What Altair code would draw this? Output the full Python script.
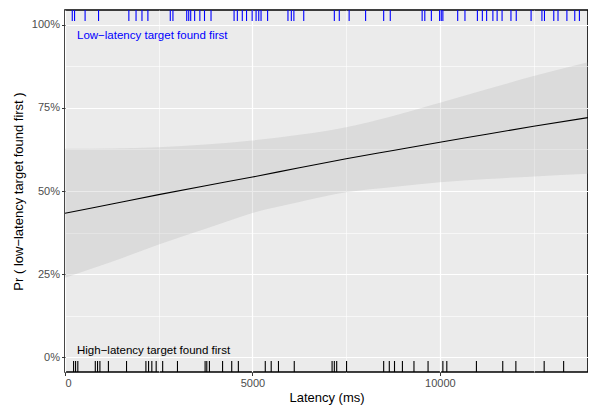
import altair as alt
import pandas as pd

# Fitted curve (logistic smooth) and its confidence band
grid_latency = [0, 1250, 2500, 3750, 5000, 6250, 7500, 8750, 10000, 11250, 12500, 13950]
fit = [0.433, 0.461, 0.489, 0.516, 0.542, 0.570, 0.597, 0.622, 0.647, 0.671, 0.695, 0.721]
lower = [0.239, 0.287, 0.339, 0.386, 0.434, 0.467, 0.496, 0.512, 0.526, 0.536, 0.544, 0.552]
upper = [0.627, 0.628, 0.632, 0.640, 0.652, 0.669, 0.692, 0.726, 0.766, 0.806, 0.846, 0.888]

# Rug: trials where the low-latency target was found first (top, blue)
low_first = [194, 255, 536, 895, 1703, 1895, 2053, 2211, 2808, 2879, 3247, 3300, 3353,
             3458, 3597, 3721, 3895, 4510, 4597, 4729, 4842, 4992, 5097, 5168, 5229,
             5404, 5947, 6037, 6105, 6368, 7184, 7316, 7579, 8018, 8500, 8676, 9526,
             9597, 9772, 9992, 10036, 10079, 10474, 10668, 11000, 11132, 11246, 11413,
             11526, 11658, 11895, 12036, 12432, 12721, 12789, 13037, 13150, 13387,
             13597, 13721]
# Rug: trials where the high-latency target was found first (bottom, black)
high_first = [229, 282, 342, 808, 868, 931, 1158, 1641, 2158, 2229, 2316, 2432, 2605,
              3000, 3737, 3782, 3852, 4203, 4447, 4624, 5342, 5500, 5694, 6115, 7124,
              7184, 7247, 7510, 8500, 8650, 8789, 9000, 9308, 9684, 10079, 10184,
              10974, 11676, 12026, 12781, 13300]

ann_labels = ["Low\u2212latency target found first", "High\u2212latency target found first"]
ann_x = [320, 320]
ann_y = [0.968, 0.018]
ann_colors = ["#0000FF", "#000000"]

x_ticks = [0, 2500, 5000, 7500, 10000, 12500]
y_ticks = [0, 0.125, 0.25, 0.375, 0.5, 0.625, 0.75, 0.875, 1.0]

fit_df = pd.DataFrame({"lat": grid_latency, "fit": fit, "lo": lower, "hi": upper})
low_df = pd.DataFrame({"lat": low_first})
high_df = pd.DataFrame({"lat": high_first})
ann_df = pd.DataFrame({"lat": ann_x, "p": ann_y, "label": ann_labels, "col": ann_colors})

FONT = "Liberation Sans"
W, H = 523, 362

xs = alt.Scale(domain=[0, 13950], nice=False, zero=False)
ys = alt.Scale(domain=[-0.045, 1.045], nice=False, zero=False)

x_axis = alt.Axis(
    title="Latency (ms)", values=x_ticks, domain=False,
    labelExpr="datum.value % 5000 === 0 ? datum.label : ''",
    gridWidth={"condition": {"test": "datum.value % 5000 !== 0", "value": 0.6}, "value": 1.2},
    tickOpacity={"condition": {"test": "datum.value % 5000 !== 0", "value": 0}, "value": 1},
    format="d",
)
y_axis = alt.Axis(
    title="Pr ( low\u2212latency target found first )", values=y_ticks, domain=False,
    format=".0%",
    labelExpr="datum.value % 0.25 === 0 ? datum.label : ''",
    gridWidth={"condition": {"test": "datum.value % 0.25 !== 0", "value": 0.6}, "value": 1.2},
    tickOpacity={"condition": {"test": "datum.value % 0.25 !== 0", "value": 0}, "value": 1},
)

X = alt.X("lat:Q", scale=xs, axis=x_axis)

ribbon = alt.Chart(fit_df).mark_area(color="#999999", opacity=0.2, interpolate="monotone").encode(
    x=X,
    y=alt.Y("lo:Q", scale=ys, axis=y_axis),
    y2="hi:Q",
)
line = alt.Chart(fit_df).mark_line(color="black", strokeWidth=1.1, interpolate="monotone").encode(
    x=X,
    y=alt.Y("fit:Q", scale=ys, axis=y_axis),
)
rug_top = alt.Chart(low_df).mark_rule(color="#0000FF", strokeWidth=1.1).encode(
    x=X, y=alt.value(0), y2=alt.value(11)
)
rug_bot = alt.Chart(high_df).mark_rule(color="#000000", strokeWidth=1.1).encode(
    x=X, y=alt.value(H - 11), y2=alt.value(H)
)
ann = alt.Chart(ann_df).mark_text(align="left", baseline="middle", fontSize=11.5, font=FONT).encode(
    x=X,
    y=alt.Y("p:Q", scale=ys, axis=y_axis),
    text="label:N",
    color=alt.Color("col:N", scale=None),
)

chart = alt.layer(ribbon, line, rug_top, rug_bot, ann).properties(
    width=W, height=H,
    autosize=alt.AutoSizeParams(type="none"),
    padding={"left": 57, "top": 2, "right": 0, "bottom": 36},
).configure_view(
    fill="#EBEBEB", stroke="#000000", strokeWidth=1.6,
).configure_axis(
    gridColor="#FFFFFF", labelFont=FONT, titleFont=FONT, labelFontSize=11,
    labelColor="#4D4D4D", titleColor="#000000", titleFontSize=13, titleFontWeight="normal",
    tickColor="#333333", tickSize=3.5, tickWidth=1, labelPadding=2,
).configure_axisX(
    titlePadding=3,
).configure_axisY(
    titlePadding=6,
)

chart.save("out.html", embed_options={"renderer": "svg", "actions": False})
